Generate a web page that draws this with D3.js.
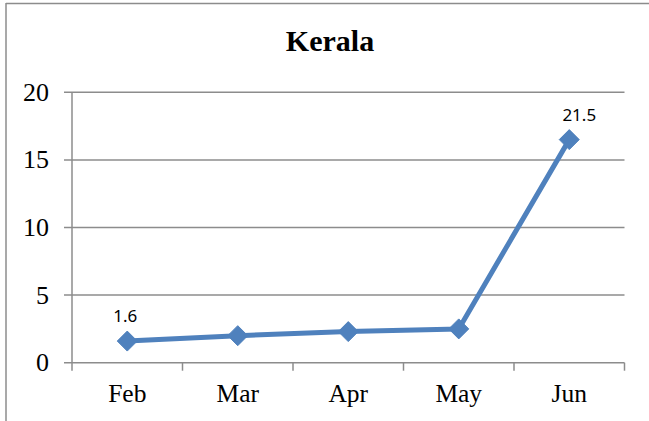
<!DOCTYPE html>
<html>
<head>
<meta charset="utf-8">
<script src="https://cdn.jsdelivr.net/npm/d3@7"></script>
<style>
  html, body { margin: 0; padding: 0; background: #fff; }
  svg { display: block; }
</style>
</head>
<body>
<svg id="chart" width="649" height="421"></svg>
<script>
const title = "Kerala";
const categories = ["Feb", "Mar", "Apr", "May", "Jun"];
const values = [1.6, 2.0, 2.3, 2.5, 16.5];
const dataLabels = ["1.6", null, null, null, "21.5"];
const yTicks = [0, 5, 10, 15, 20];

const svg = d3.select("#chart");
const W = 649, H = 421;
const plot = { left: 72, right: 624.5, top: 92.3, bottom: 362.7 };
const serif = "'Liberation Serif', 'Times New Roman', serif";

// outer frame (only top and left visible in reference)
svg.append("line").attr("x1", 6).attr("x2", W).attr("y1", 3.5).attr("y2", 3.5)
  .attr("stroke", "#8c8c8c").attr("stroke-width", 1.5);
svg.append("line").attr("x1", 6).attr("x2", 6).attr("y1", 3).attr("y2", H)
  .attr("stroke", "#8c8c8c").attr("stroke-width", 1.5);

const x = d3.scaleBand().domain(categories).range([plot.left, plot.right]).padding(0);
const y = d3.scaleLinear().domain([0, 20]).range([plot.bottom, plot.top]);

// gridlines
svg.append("g").selectAll("line").data(yTicks).join("line")
  .attr("x1", plot.left - 8).attr("x2", plot.right)
  .attr("y1", d => y(d)).attr("y2", d => y(d))
  .attr("stroke", "#8c8c8c").attr("stroke-width", 1.5);

// y axis line
svg.append("line").attr("x1", plot.left).attr("x2", plot.left)
  .attr("y1", plot.top).attr("y2", plot.bottom + 8)
  .attr("stroke", "#8c8c8c").attr("stroke-width", 1.5);

// x tick marks at category boundaries
const boundaries = categories.map(c => x(c)).concat([plot.right]);
svg.append("g").selectAll("line").data(boundaries.slice(1)).join("line")
  .attr("x1", d => d).attr("x2", d => d)
  .attr("y1", plot.bottom).attr("y2", plot.bottom + 8)
  .attr("stroke", "#8c8c8c").attr("stroke-width", 1.5);

// y tick labels
svg.append("g").selectAll("text").data(yTicks).join("text")
  .attr("x", 49).attr("y", d => y(d) + 8.5)
  .attr("text-anchor", "end")
  .attr("font-family", serif)
  .attr("font-size", 26).attr("fill", "#000")
  .text(d => d);

// x labels
svg.append("g").selectAll("text").data(categories).join("text")
  .attr("x", d => x(d) + x.bandwidth() / 2).attr("y", 402)
  .attr("text-anchor", "middle")
  .attr("font-family", serif)
  .attr("font-size", 25.5).attr("fill", "#000")
  .text(d => d);

// title
svg.append("text").attr("x", 330).attr("y", 51)
  .attr("text-anchor", "middle")
  .attr("font-family", serif)
  .attr("font-weight", "bold").attr("font-size", 30).attr("fill", "#000")
  .text(title);

const pts = categories.map((c, i) => ({ c, v: values[i], lab: dataLabels[i] }));
const cx = d => x(d.c) + x.bandwidth() / 2;

// line
svg.append("path").datum(pts)
  .attr("d", d3.line().x(cx).y(d => y(d.v)))
  .attr("fill", "none").attr("stroke", "#4F81BD").attr("stroke-width", 5)
  .attr("stroke-linejoin", "round");

// diamond markers
svg.append("g").selectAll("path").data(pts).join("path")
  .attr("transform", d => `translate(${cx(d)},${y(d.v)})`)
  .attr("d", "M0,-10L10,0L0,10L-10,0Z")
  .attr("fill", "#4F81BD").attr("stroke", "#4F81BD").attr("stroke-width", 1);

// data labels
svg.append("g").selectAll("text").data(pts.filter(d => d.lab)).join("text")
  .attr("x", d => cx(d) + (d.c === "Jun" ? 10 : -2))
  .attr("y", d => y(d.v) - 19)
  .attr("text-anchor", "middle")
  .attr("font-family", "'Noto Sans', 'Open Sans', sans-serif")
  .attr("font-size", 17).attr("fill", "#000")
  .text(d => d.lab);
</script>
</body>
</html>
